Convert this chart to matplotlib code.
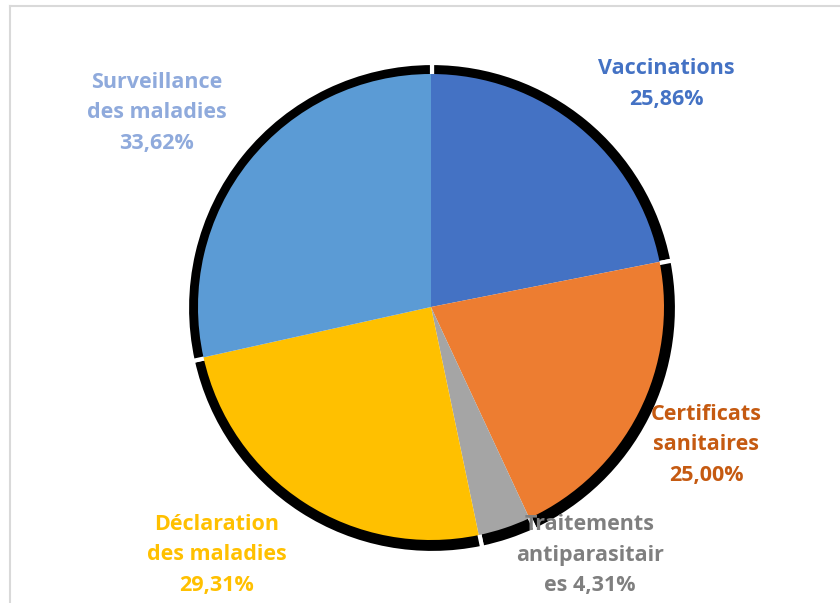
import matplotlib
matplotlib.use("Agg")
import matplotlib.pyplot as plt

# data (percentages as labelled)
labels = ["Vaccinations\n25,86%", "Certificats\nsanitaires\n25,00%",
          "Traitements\nantiparasitair\nes 4,31%",
          "Déclaration\ndes maladies\n29,31%", "Surveillance\ndes maladies\n33,62%"]
values = [25.86, 25.00, 4.31, 29.31, 33.62]
slice_colors = ["#4472C4", "#ED7D31", "#A5A5A5", "#FFC000", "#5B9BD5"]
text_colors = ["#4472C4", "#C55A11", "#7F7F7F", "#FFC000", "#8FAADC"]

W, H = 840, 603
fig = plt.figure(figsize=(W / 100, H / 100), dpi=100)
ax = fig.add_axes([0, 0, 1, 1])
ax.axis("off")

cx, cy, r = 431, H - 307, 233

# black "shadow" ring behind the slices
ax.pie(values, startangle=90, counterclock=False, center=(cx + 1, cy - 1), radius=r + 12,
       colors=["black"] * len(values),
       wedgeprops=dict(edgecolor="white", linewidth=3))
ax.pie(values, startangle=90, counterclock=False, center=(cx, cy), radius=r,
       colors=slice_colors, wedgeprops=dict(edgecolor="none"))
ax.set_xlim(0, W)
ax.set_ylim(0, H)
ax.set_aspect("equal")

# label centres (pixels, from top)
label_pos = [(666, 84), (706, 445), (590, 555), (217, 555), (157, 113)]
for lab, (x, y), c in zip(labels, label_pos, text_colors):
    ax.text(x, H - y, lab, ha="center", va="center", color=c,
            fontsize=15.5, fontweight="bold", family=["Open Sans", "DejaVu Sans"],
            linespacing=1.6)

# chart frame (light gray, top and left visible)
ax.plot([10, W], [H - 6, H - 6], color="#D9D9D9", lw=1.5)
ax.plot([10, 10], [H - 6, 0], color="#D9D9D9", lw=1.5)

fig.savefig("out.png", dpi=100)
